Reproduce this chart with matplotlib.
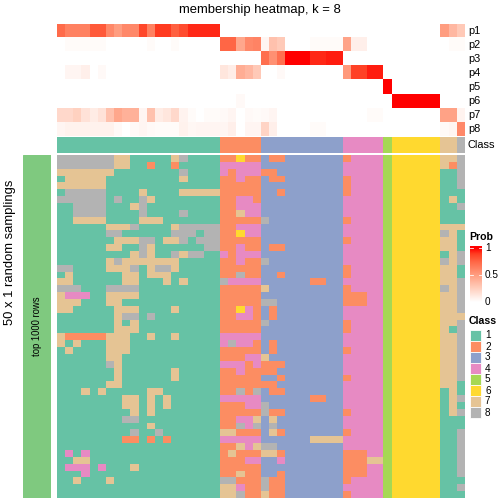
import numpy as np
import matplotlib
matplotlib.use("Agg")
import matplotlib.pyplot as plt
from matplotlib.colors import ListedColormap, LinearSegmentedColormap
from matplotlib.patches import Rectangle

plt.rcParams['font.family'] = ['Liberation Sans', 'DejaVu Sans']

# membership probabilities, one list per class row (50 columns)
p1 = [0.73, 0.63, 0.63, 0.63, 0.80, 0.80, 0.60, 0.50, 0.60, 0.60,
      0.86, 0.63, 0.90, 0.90, 0.77, 0.84, 0.93, 0.93, 0.93, 0.93,
      0, 0, 0, 0, 0, 0, 0, 0, 0, 0,
      0, 0, 0, 0, 0, 0, 0, 0, 0, 0,
      0, 0, 0, 0, 0, 0, 0, 0.50, 0.37, 0.28]
p2 = [0, 0.02, 0.02, 0.02, 0.02, 0.02, 0, 0, 0, 0,
      0, 0.02, 0, 0, 0.02, 0, 0, 0, 0, 0,
      0.75, 0.75, 0.45, 0.60, 0.62, 0.05, 0.32, 0.27, 0, 0,
      0, 0.02, 0.02, 0.02, 0.02, 0.47, 0.08, 0.08, 0, 0,
      0, 0, 0, 0, 0, 0, 0, 0, 0.02, 0.02]
p3 = [0, 0, 0, 0, 0, 0, 0, 0, 0, 0,
      0, 0, 0, 0, 0, 0, 0, 0, 0, 0,
      0, 0, 0, 0, 0, 0.71, 0.56, 0.71, 1, 1,
      1, 0.93, 0.93, 0.95, 0.95, 0, 0, 0, 0, 0,
      0, 0, 0, 0, 0, 0, 0, 0, 0, 0]
p4 = [0, 0.05, 0.05, 0.08, 0, 0.03, 0, 0, 0, 0,
      0, 0, 0, 0, 0, 0, 0, 0, 0, 0,
      0.13, 0.09, 0.42, 0.37, 0.28, 0, 0, 0.03, 0, 0,
      0, 0, 0, 0, 0, 0.52, 0.88, 0.88, 0.95, 0.95,
      0, 0, 0, 0, 0, 0, 0, 0, 0, 0]
p5 = [0, 0, 0, 0, 0, 0, 0, 0, 0, 0,
      0, 0, 0, 0, 0, 0, 0, 0, 0, 0,
      0, 0, 0, 0, 0, 0, 0, 0, 0, 0,
      0, 0, 0, 0, 0, 0, 0, 0, 0, 0,
      1, 0, 0, 0, 0, 0, 0, 0, 0, 0]
p6 = [0, 0, 0, 0, 0, 0, 0, 0, 0, 0,
      0, 0, 0, 0, 0, 0, 0, 0, 0, 0,
      0, 0, 0.03, 0, 0, 0, 0, 0, 0, 0,
      0, 0, 0, 0, 0, 0, 0, 0, 0, 0,
      0, 1, 1, 1, 1, 1, 1, 0, 0, 0]
p7 = [0.20, 0.20, 0.24, 0.15, 0.10, 0.15, 0.32, 0.45, 0.40, 0.40,
      0.05, 0.32, 0.10, 0.13, 0.20, 0.06, 0.02, 0, 0.02, 0.02,
      0.03, 0.05, 0, 0.03, 0.02, 0.03, 0.05, 0, 0, 0,
      0, 0, 0, 0, 0, 0, 0, 0, 0.02, 0.02,
      0, 0, 0, 0, 0, 0, 0, 0.48, 0.48, 0.06]
p8 = [0.05, 0.07, 0.07, 0.07, 0.07, 0.07, 0.07, 0.03, 0, 0.03,
      0.05, 0.03, 0.02, 0.02, 0.02, 0.07, 0.04, 0.05, 0.05, 0.05,
      0.05, 0.08, 0, 0.05, 0.05, 0.22, 0.08, 0, 0, 0,
      0, 0.02, 0.02, 0, 0, 0, 0, 0, 0, 0,
      0, 0, 0, 0, 0, 0, 0, 0.03, 0.05, 0.60]
prob_names = ['p1', 'p2', 'p3', 'p4', 'p5', 'p6', 'p7', 'p8']

# consensus class of each column
consensus_class = "11111111111111111111 22222 3333333333 44444 5 666666 77 8"

# class assigned in each of the 50 random samplings (one string per row)
samplings = [
    "88888887711111781111 22622 3223333333 24444 5 666666 77 8",
    "88888887711211211111 44444 3333333333 44444 5 666666 72 8",
    "77777771111111181111 42444 2233333333 44444 5 666666 11 8",
    "17777711111111171111 22422 3223333333 24444 5 666666 11 8",
    "77777711111111111111 22222 3333333333 24444 5 666666 11 8",
    "18888811117111177777 22222 3323333333 24444 5 666666 11 1",
    "88888818118711111111 22442 3333333333 44444 5 666666 17 1",
    "11888811178111111111 22444 3333333333 44444 5 666666 11 8",
    "11888811118111181111 22744 3333333333 44444 5 666666 11 1",
    "11777711117771111111 22222 8333333333 24444 5 666666 11 1",
    "11111177781111788888 22444 3333333333 44444 5 666666 77 7",
    "11111188111111888188 22644 3333333333 44444 5 666666 87 1",
    "11111117778817781888 22222 3333333333 24444 5 666666 77 1",
    "11111177118711111188 22422 3223333333 44444 5 666666 77 1",
    "11111111178711878811 42444 3333333333 44444 5 666666 17 8",
    "11111178777777711111 22422 8333333333 44444 5 666666 87 8",
    "88111177781788711111 22222 3333333333 24444 5 666666 77 1",
    "17111111771777111111 22822 3323333333 24444 5 666666 77 1",
    "77111111771117171111 84444 3333332233 44444 5 666666 77 8",
    "88811188881111111111 22222 7333333333 24444 5 666666 87 8",
    "74441177771111111111 22222 3333333333 22244 5 666666 77 8",
    "77711177111111111111 22222 8833333333 22244 5 666666 77 8",
    "77111117771111711111 22642 3233333333 44444 5 666666 77 8",
    "11111117881811111111 22442 3233333333 44444 5 666666 77 7",
    "11111117171111111111 22222 8333333333 24444 5 666666 77 8",
    "11111117771111111111 22222 3333333333 24444 5 666666 71 8",
    "72222277711711711111 44444 3333333333 44444 5 666666 77 8",
    "71711177711111111111 48442 3233333333 44444 5 666666 77 8",
    "17111177711111111111 22222 3233333333 24444 5 666666 77 8",
    "11111177111111111111 22244 7333333333 44444 5 666666 77 8",
    "11111187111111111111 44424 2223333333 44444 5 666666 77 8",
    "11111117111111711111 22422 2233333333 44444 5 666666 77 8",
    "11111117111111711111 22222 3323333333 24444 5 666666 77 8",
    "11111177111111111111 22222 2233333333 44444 5 666666 77 1",
    "11171711111771111111 22828 3223333333 44444 5 666666 17 1",
    "11111111771717111111 44444 3333332233 44444 5 666666 17 8",
    "11111111771717111111 22244 8333333333 44444 5 666666 17 1",
    "11111111171711111111 22222 8223333333 24444 5 666666 17 8",
    "11111111881111111111 22447 3733333333 44444 5 666666 11 1",
    "11111111111711111111 22848 3833333333 44444 5 666666 11 1",
    "11111111181181111111 77222 3723333333 24444 5 666666 11 8",
    "11111111221212111111 44444 3333337777 44444 5 666666 11 8",
    "11111111111111111111 22747 8833333333 44444 5 666666 11 8",
    "14141111111111111111 27222 7723333333 22244 5 666666 11 8",
    "11771111111111111111 22244 3343333333 22277 5 666666 11 8",
    "14441411171111111111 22222 3333333333 22244 5 666666 11 8",
    "11141111111111111111 22722 3323333333 22244 5 666666 11 8",
    "11711171111111111111 88222 8223333333 24444 5 666666 11 1",
    "11111111111111111111 77422 8223333333 44444 5 666666 11 8",
    "11111111111111111111 77822 7223333333 24444 5 666666 11 1",
]

class_labels = ['1', '2', '3', '4', '5', '6', '7', '8']
class_colors = ['#66C2A5', '#FC8D62', '#8DA0CB', '#E78AC3',
                '#A6D854', '#FFD92F', '#E5C494', '#B3B3B3']


def to_ints(s):
    return [int(c) for c in s.replace(' ', '')]


prob = np.array([p1, p2, p3, p4, p5, p6, p7, p8])
cls = np.array([to_ints(consensus_class)])
mat = np.array([to_ints(r) for r in samplings])

prob_cmap = LinearSegmentedColormap.from_list(
    'wr', [(0, '#FFFFFF'), (0.25, '#FFCFBE'), (0.5, '#FF9E81'),
           (0.75, '#FF6746'), (0.9, '#FF3D21'), (1, '#FF0000')])
class_cmap = ListedColormap(class_colors)

W, H = 504, 504
fig = plt.figure(figsize=(7, 7), dpi=72)


def px_axes(x0, y0, x1, y1):
    ax = fig.add_axes([x0 / W, 1 - y1 / H, (x1 - x0) / W, (y1 - y0) / H])
    ax.set_axis_off()
    return ax


def px_text(x, y, s, **kw):
    fig.text(x / W, 1 - y / H, s, **kw)


# top: membership probabilities
ax_top = px_axes(57, 24, 465, 136.3)
ax_top.imshow(prob, cmap=prob_cmap, vmin=0, vmax=1, aspect='auto',
              interpolation='nearest')
row_h = (136.3 - 24) / 8
for i, name in enumerate(prob_names):
    px_text(468, 24 + row_h * (i + 0.5), name, fontsize=11, va='center', ha='left')

# class annotation
ax_cls = px_axes(57, 137.3, 465, 153.3)
ax_cls.imshow(cls, cmap=class_cmap, vmin=0.5, vmax=8.5, aspect='auto',
              interpolation='nearest')
px_text(468, 145.3, 'Class', fontsize=11, va='center', ha='left')

# main matrix of samplings
ax_mat = px_axes(57, 155, 465, 498)
ax_mat.imshow(mat, cmap=class_cmap, vmin=0.5, vmax=8.5, aspect='auto',
              interpolation='nearest')

# left annotation bar
ax_bar = px_axes(23, 155, 51, 498)
ax_bar.add_patch(Rectangle((0, 0), 1, 1, color='#7FC97F', transform=ax_bar.transAxes))
px_text(37.5, 326.5, 'top 1000 rows', fontsize=9.5, rotation=90, ha='center', va='center')
px_text(10.5, 252, '50 x 1 random samplings', fontsize=13, rotation=90,
        ha='center', va='center')

# title
px_text(260, 10, 'membership heatmap, k = 8', fontsize=13, ha='center', va='center')

# legend: Prob
px_text(469, 237, 'Prob', fontsize=10.5, fontweight='bold', ha='left', va='center')
ax_cb = px_axes(470, 246, 482, 302)
grad = np.linspace(1.04, 0, 200)[:, None]
ax_cb.imshow(grad, cmap=prob_cmap, vmin=0, vmax=1, aspect='auto',
             extent=[0, 1, 0, 1.04])
ax_cb.set_xlim(0, 1)
ax_cb.set_ylim(0, 1.04)
for v in [0.5, 1.0]:
    ax_cb.plot([0, 0.25], [v, v], color='white', lw=0.8)
    ax_cb.plot([0.75, 1], [v, v], color='white', lw=0.8)
for v, lab in [(1.0, '1'), (0.5, '0.5'), (0.0, '0')]:
    px_text(485, 302 - 56 / 1.04 * v, lab, fontsize=10, ha='left', va='center')

# legend: Class
px_text(469, 321, 'Class', fontsize=10.5, fontweight='bold', ha='left', va='center')
for i, (lab, col) in enumerate(zip(class_labels, class_colors)):
    y0 = 330 + 11 * i
    fig.patches.append(Rectangle((470 / W, 1 - (y0 + 11) / H), 11 / W, 11 / H,
                                 facecolor=col, edgecolor='white', lw=0.8,
                                 transform=fig.transFigure))
    px_text(485, y0 + 5.5, lab, fontsize=10, ha='left', va='center')

fig.savefig('out.png', dpi=72)
